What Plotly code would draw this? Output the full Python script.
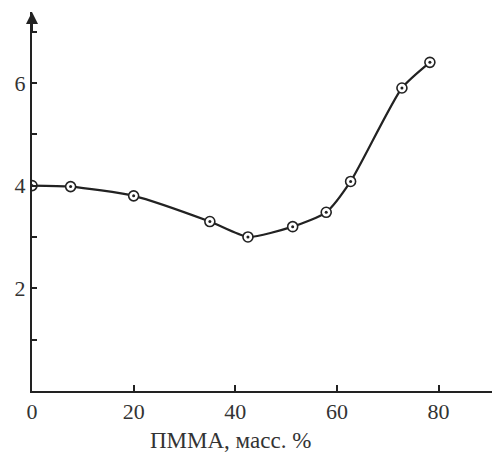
import plotly.graph_objects as go

# Data
pmma = [0, 7.6, 20, 35, 42.5, 51.3, 57.9, 62.7, 72.8, 78.3]
values = [4.0, 3.98, 3.8, 3.3, 3.0, 3.2, 3.48, 4.08, 5.9, 6.4]

x_ticks = [0, 20, 40, 60, 80]
x_ticktext = ["0", "20", "40", "60", "80"]
y_ticks = [1, 2, 3, 4, 5, 6, 7]
y_ticktext = ["", "2", "", "4", "", "6", ""]
x_title = "ПММА, масс. %"

ink = "#222222"
font_family = "Liberation Serif, DejaVu Serif, serif"

fig = go.Figure()
fig.add_trace(go.Scatter(
    x=pmma, y=values, mode="lines",
    line=dict(color=ink, width=2.2, shape="spline", smoothing=0.6),
    hoverinfo="skip", showlegend=False,
))
fig.add_trace(go.Scatter(
    x=pmma, y=values, mode="markers",
    marker=dict(symbol="circle", size=10, color="white",
                line=dict(color=ink, width=1.6)),
    showlegend=False,
))
fig.add_trace(go.Scatter(
    x=pmma, y=values, mode="markers",
    marker=dict(symbol="circle", size=3, color=ink),
    showlegend=False,
))

fig.update_layout(
    width=492, height=448,
    margin=dict(l=24, r=0, t=4, b=65),
    paper_bgcolor="white", plot_bgcolor="white",
    font=dict(family=font_family, color=ink, size=21),
    xaxis=dict(
        range=[0, 92.1], tickvals=x_ticks, ticktext=x_ticktext,
        ticks="inside", ticklen=6, tickwidth=1.5, tickcolor=ink,
        showline=True, linecolor=ink, linewidth=2,
        showgrid=False, zeroline=False, automargin=False,
        tickfont=dict(size=22, family=font_family, color="#333"),
    ),
    yaxis=dict(
        range=[0, 7.38], tickvals=y_ticks, ticktext=y_ticktext,
        ticks="inside", ticklen=5, tickwidth=2, tickcolor=ink,
        showline=True, linecolor=ink, linewidth=2,
        showgrid=False, zeroline=False, automargin=False,
        tickfont=dict(size=22, family=font_family, color="#333"),
    ),
    annotations=[
        dict(
            text=x_title, xref="paper", yref="paper",
            x=(230 - 32) / 468, y=0, xanchor="center", yanchor="middle",
            yshift=-49, showarrow=False,
            font=dict(size=23, family=font_family, color="#333"),
        ),
        dict(
            x=0, y=7.38, xref="x", yref="y",
            ax=0, ay=22, axref="pixel", ayref="pixel",
            showarrow=True, arrowhead=2, arrowsize=1.2, arrowwidth=2,
            arrowcolor=ink, text="",
        ),
    ],
)

fig.write_html("out.html")
